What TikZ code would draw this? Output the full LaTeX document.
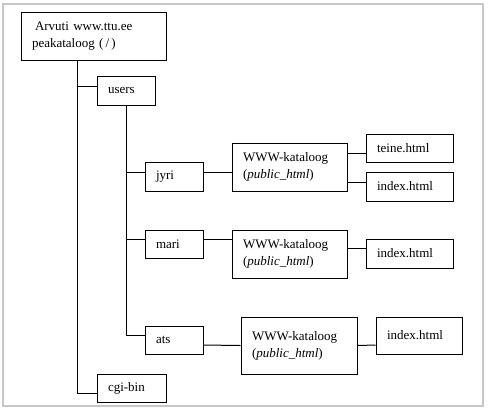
\documentclass[tikz,border=0pt]{standalone}
\usepackage{fontspec}
\setmainfont{Liberation Serif}
\usepackage{tikz}

\begin{document}
\begin{tikzpicture}[x=1pt, y=-1pt, line width=1pt,
    box/.style={draw, inner xsep=11pt, inner ysep=2pt, align=left,
        font=\fontsize{13}{17}\selectfont}]
    \useasboundingbox (0,0) rectangle (489,408);
    \draw[black!22, line width=1.2pt] (3,4) rectangle (483,406);

    \node[box, text width=123pt, minimum height=48pt] (root) at (93.5, 36) {\hspace{3pt}Arvuti www.ttu.ee\\peakataloog (\,/\,)};
    \node[box, text width=36pt, minimum height=29pt] (users) at (126, 90.5) {users};
    \node[box, text width=36pt, minimum height=29pt] (jyri) at (174, 176.5) {jyri};
    \node[box, text width=93pt, minimum height=48pt] (www1) at (289.5, 167) {WWW-kataloog\\(\textit{public\_html})};
    \node[box, text width=65pt, minimum height=28pt] (teine) at (409.5, 148) {teine.html};
    \node[box, text width=65pt, minimum height=29pt] (idx1) at (409.5, 186.5) {index.html};
    \node[box, text width=36pt, minimum height=28pt] (mari) at (174, 244) {mari};
    \node[box, text width=93pt, minimum height=48pt] (www2) at (289.5, 254) {WWW-kataloog\\(\textit{public\_html})};
    \node[box, text width=65pt, minimum height=29pt] (idx2) at (409.5, 253.5) {index.html};
    \node[box, text width=36pt, minimum height=28pt] (ats) at (174, 340) {ats};
    \node[box, text width=94pt, minimum height=57pt] (www3) at (299, 345.5) {WWW-kataloog\\(\textit{public\_html})};
    \node[box, text width=64pt, minimum height=37pt] (idx3) at (419, 335.5) {index.html};
    \node[box, text width=47pt, minimum height=28pt] (cgi) at (131.5, 388) {cgi-bin};

    \draw ([xshift=57pt]root.south west) |- ([yshift=-5pt]cgi.west);
    \draw ([yshift=4.5pt]users.west) -- ++(-19,0);
    \draw (users.south) |- ([yshift=5pt]ats.west);
    \draw ([yshift=4.5pt]jyri.west) -- ++(-19,0);
    \draw ([yshift=5pt]mari.west) -- ++(-19,0);
    \draw ([yshift=4.5pt]jyri.east) -- ([yshift=-5pt]www1.west);
    \draw ([yshift=14pt]www1.east) -- ([yshift=-5pt]teine.west);
    \draw ([yshift=-15pt]www1.east) -- ([yshift=4.5pt]idx1.west);
    \draw ([yshift=5pt]mari.east) -- ([yshift=15pt]www2.west);
    \draw ([yshift=6pt]www2.east) -- ([yshift=5.5pt]idx2.west);
    \draw ([yshift=-5pt]ats.east) -- (www3.west);
    \draw (www3.east) -- ([yshift=-9.5pt]idx3.west);

\end{tikzpicture}
\end{document}
